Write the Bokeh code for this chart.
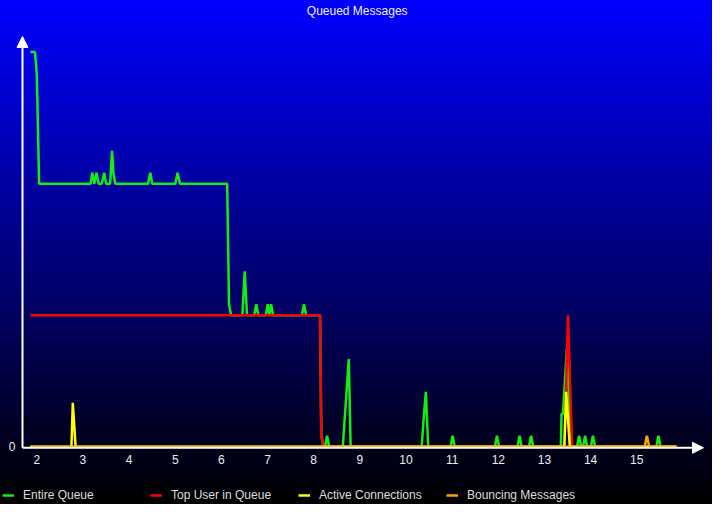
from bokeh.plotting import figure
from bokeh.models import Range1d, FixedTicker, Legend, LegendItem, Arrow, NormalHead, Label
from bokeh.embed import file_html
from bokeh.resources import INLINE

# ---- data ----
x_ticks = [2, 3, 4, 5, 6, 7, 8, 9, 10, 11, 12, 13, 14, 15]
y_ticks = [0]

series_names = ["Entire Queue", "Top User in Queue", "Active Connections", "Bouncing Messages"]

entire_x = [1.86, 1.96, 2.0, 2.05,
            3.165, 3.2, 3.245, 3.295, 3.34,
            3.41, 3.46, 3.5,
            3.59, 3.63, 3.66, 3.7,
            4.41, 4.46, 4.5,
            5.0, 5.05, 5.1,
            6.125, 6.165, 6.21,
            6.455, 6.505, 6.555,
            6.71, 6.755, 6.8,
            6.96, 7.005, 7.04, 7.077, 7.12,
            7.745, 7.79, 7.835,
            8.137, 8.165, 8.21,
            8.245, 8.29, 8.335,
            8.63, 8.76, 8.8,
            10.34, 10.39, 10.43, 10.48,
            10.965, 11.01, 11.055,
            11.925, 11.97, 12.015,
            12.415, 12.46, 12.505,
            12.665, 12.71, 12.755,
            13.355, 13.37, 13.40, 13.487, 13.57,
            13.705, 13.75, 13.795, 13.835, 13.88, 13.925,
            14.005, 14.05, 14.095,
            15.425, 15.47, 15.515,
            15.86]
entire_y = [36, 36, 34, 24,
            24, 25, 24, 25, 24,
            24, 25, 24,
            24, 27, 25, 24,
            24, 25, 24,
            24, 25, 24,
            24, 13, 12,
            12, 16, 12,
            12, 13, 12,
            12, 13, 12, 13, 12,
            12, 13, 12,
            12, 1, 0,
            0, 1, 0,
            0, 8, 0,
            0, 3, 5, 0,
            0, 1, 0,
            0, 1, 0,
            0, 1, 0,
            0, 1, 0,
            0, 3, 3, 9, 0,
            0, 1, 0, 0, 1, 0,
            0, 1, 0,
            0, 1, 0,
            0]

top_user_x = [1.86, 8.137, 8.165, 8.21, 13.435, 13.51, 13.6, 15.86]
top_user_y = [12, 12, 1, 0, 0, 12, 0, 0]

active_x = [1.86, 2.75, 2.78, 2.84, 13.43, 13.47, 13.55, 15.86]
active_y = [0, 0, 4, 0, 0, 5, 0, 0]

bouncing_x = [1.86, 15.17, 15.22, 15.27, 15.86]
bouncing_y = [0, 0, 1, 0, 0]

title_text = "Queued Messages"

# ---- styling ----
colors = ["#11ee11", "#ff0000", "#ffff00", "#ffa500"]
FONT = "Liberation Sans"
TXT = "#eeeeee"
W, H = 712, 504

# where the arrowed axes are drawn
AXIS_X = 1.69
AXIS_Y = -0.1
ARROW_X_END = 16.446
ARROW_Y_END = 37.43

p = figure(width=W, height=H, output_backend="svg", toolbar_location=None,
           x_range=Range1d(1.2134, 16.641), y_range=Range1d(-5.274, 40.71),
           min_border_left=0, min_border_right=0, min_border_top=0, min_border_bottom=0)
p.styles = {"background": "linear-gradient(180deg, #0000ff 0%, #000000 100%)"}
p.background_fill_color = None
p.border_fill_color = None
p.outline_line_color = None
p.xgrid.visible = False
p.ygrid.visible = False

for ax, ticks in ((p.xaxis[0], x_ticks), (p.yaxis[0], y_ticks)):
    ax.ticker = FixedTicker(ticks=ticks)
    ax.axis_line_color = None
    ax.major_tick_line_color = None
    ax.minor_tick_line_color = None
    ax.major_tick_out = 0
    ax.major_tick_in = 0
    ax.major_label_text_color = TXT
    ax.major_label_text_font = FONT
    ax.major_label_text_font_size = "12px"
p.xaxis.major_label_standoff = -50
p.yaxis.major_label_standoff = -15

p.add_layout(Arrow(end=NormalHead(size=11, fill_color="white", line_color="white"),
                   x_start=AXIS_X, y_start=AXIS_Y, x_end=ARROW_X_END, y_end=AXIS_Y,
                   line_color="white", line_width=2))
p.add_layout(Arrow(end=NormalHead(size=11, fill_color="white", line_color="white"),
                   x_start=AXIS_X, y_start=AXIS_Y, x_end=AXIS_X, y_end=ARROW_Y_END,
                   line_color="white", line_width=2))

renderers = []
for xs, ys, c in ((entire_x, entire_y, colors[0]), (top_user_x, top_user_y, colors[1]),
                  (active_x, active_y, colors[2]), (bouncing_x, bouncing_y, colors[3])):
    renderers.append(p.line(xs, ys, line_color=c, line_width=2.5))

legend = Legend(items=[LegendItem(label=n, renderers=[r]) for n, r in zip(series_names, renderers)],
                location=(2, 0), orientation="horizontal",
                glyph_width=12, glyph_height=18, label_height=18,
                label_standoff=9, label_width=118, spacing=9, padding=0, margin=0,
                background_fill_alpha=0, border_line_color=None,
                label_text_color="#dddddd", label_text_font=FONT, label_text_font_size="12px")
p.add_layout(legend)

p.add_layout(Label(x=356.7, y=H - 10.8, x_units="screen", y_units="screen", text=title_text,
                   text_align="center", text_baseline="middle", text_color=TXT,
                   text_font=FONT, text_font_size="12px"))

open("out.html", "w").write(file_html(p, INLINE))
